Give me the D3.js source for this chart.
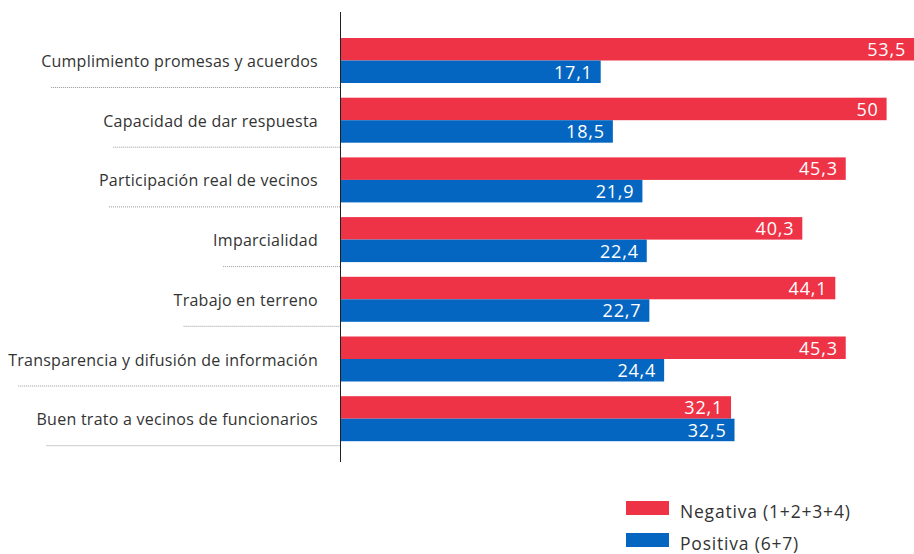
<!DOCTYPE html>
<html>
<head>
<meta charset="utf-8">
<script src="https://cdn.jsdelivr.net/npm/d3@7"></script>
<style>
  html, body { margin: 0; padding: 0; background: #fff; }
  svg { display: block; }
  .cat { font-family: "Open Sans", "Noto Sans", sans-serif; font-size: 16px; letter-spacing: 0.25px; fill: #333; }
  .val { font-family: "Open Sans", "Noto Sans", sans-serif; font-size: 18px; letter-spacing: 0.8px; fill: #fff; }
  .leg { font-family: "Open Sans", "Noto Sans", sans-serif; font-size: 17.5px; letter-spacing: 0.8px; fill: #333; }
</style>
</head>
<body>
<div id="chart"></div>
<script>
(function() {

  var categories = [
    "Cumplimiento promesas y acuerdos",
    "Capacidad de dar respuesta",
    "Participación real de vecinos",
    "Imparcialidad",
    "Trabajo en terreno",
    "Transparencia y difusión de información",
    "Buen trato a vecinos de funcionarios"
  ];

  var negativa = [53.5, 50, 45.3, 40.3, 44.1, 45.3, 32.1];
  var positiva = [17.1, 18.5, 21.9, 22.4, 22.7, 24.4, 32.5];

  var keys = ["neg", "pos"];
  var keyNames = ["Negativa (1+2+3+4)", "Positiva (6+7)"];
  var colors = ["#ee3346", "#0566c2"];

  var width = 914, height = 554,
      axisX = 340;

  var data = categories.map(function(c, i) {
    return { name: c, neg: negativa[i], pos: positiva[i] };
  });

  var svg = d3.select("#chart").append("svg")
      .attr("width", width)
      .attr("height", height);

  // bars do not start at zero in the original, left edge sits near -12.9
  var x = d3.scaleLinear()
      .domain([-12.9, 53.5])
      .range([axisX, 917]);

  var y0 = d3.scaleBand()
      .domain(categories)
      .range([30, 30 + 7 * 59.7]);

  var y1 = d3.scaleBand()
      .domain(keys)
      .range([8, 53]);

  var color = d3.scaleOrdinal().domain(keys).range(colors);

  var fmt = function(v) { return String(v).replace(".", ","); };

  var rows = svg.selectAll(".row")
      .data(data)
      .enter().append("g")
      .attr("class", "row")
      .attr("transform", function(d) { return "translate(0," + y0(d.name) + ")"; });

  // category labels
  rows.append("text")
      .attr("class", "cat")
      .attr("x", 318)
      .attr("y", 37)
      .attr("text-anchor", "end")
      .text(function(d) { return d.name; })
      .each(function() {
        var len = this.getComputedTextLength();
        d3.select(this.parentNode).append("line")
          .attr("x1", 318 - len + 10)
          .attr("x2", axisX)
          .attr("y1", 57.5)
          .attr("y2", 57.5)
          .attr("stroke", "#999")
          .attr("stroke-width", 1)
          .attr("stroke-dasharray", "1,1");
      });

  var bars = rows.selectAll(".bar")
      .data(function(d) { return keys.map(function(k) { return { key: k, value: d[k] }; }); })
      .enter().append("g")
      .attr("class", "bar");

  bars.append("rect")
      .attr("x", axisX)
      .attr("y", function(d) { return y1(d.key); })
      .attr("width", function(d) { return x(d.value) - axisX; })
      .attr("height", y1.bandwidth())
      .attr("fill", function(d) { return color(d.key); });

  bars.append("text")
      .attr("class", "val")
      .attr("x", function(d) { return Math.min(x(d.value), width) - 8; })
      .attr("y", function(d) { return y1(d.key) + y1.bandwidth() / 2; })
      .attr("dy", "0.38em")
      .attr("text-anchor", "end")
      .text(function(d) { return fmt(d.value); });

  // vertical axis line
  svg.append("line")
      .attr("x1", axisX + 0.5).attr("x2", axisX + 0.5)
      .attr("y1", 12).attr("y2", 462)
      .attr("stroke", "#222")
      .attr("stroke-width", 1);

  // legend
  var legend = svg.selectAll(".legend")
      .data(keys)
      .enter().append("g")
      .attr("class", "legend")
      .attr("transform", function(d, i) { return "translate(626," + (501 + i * 32) + ")"; });

  legend.append("rect")
      .attr("width", 43)
      .attr("height", 14)
      .attr("fill", function(d) { return color(d); });

  legend.append("text")
      .attr("class", "leg")
      .attr("x", 54)
      .attr("y", 10)
      .attr("dy", "0.38em")
      .text(function(d, i) { return keyNames[i]; });

}());
</script>
</body>
</html>
